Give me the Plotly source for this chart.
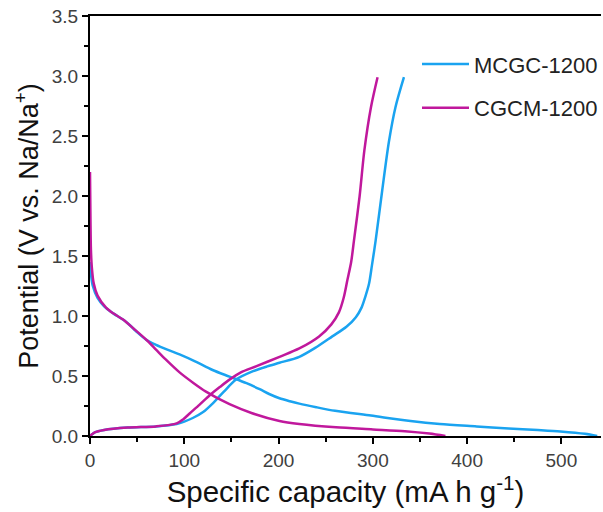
import plotly.graph_objects as go

# Galvanostatic charge/discharge profiles (capacity in mA h g^-1, potential in V)
mcgc_dis_cap = [0, 1, 3, 8, 15, 25, 35, 42, 50, 60, 70, 82, 95, 112, 130, 148, 166, 180, 190, 201, 212, 222, 240, 260, 298, 340, 371, 410, 444, 475, 499, 525, 538]
mcgc_dis_v = [1.45, 1.35, 1.25, 1.15, 1.08, 1.02, 0.97, 0.925, 0.865, 0.8, 0.76, 0.72, 0.68, 0.62, 0.55, 0.495, 0.44, 0.39, 0.35, 0.315, 0.29, 0.27, 0.24, 0.21, 0.17, 0.125, 0.1, 0.08, 0.063, 0.05, 0.038, 0.018, 0.0]
mcgc_chg_cap = [0, 5, 15, 40, 70, 92, 100, 109, 120, 130, 142, 155, 173, 188, 201, 222, 240, 257, 272, 282, 288, 292, 296, 299, 303, 310, 317, 324, 333]
mcgc_chg_v = [0.0, 0.03, 0.05, 0.07, 0.08, 0.1, 0.12, 0.15, 0.2, 0.27, 0.37, 0.47, 0.54, 0.58, 0.61, 0.66, 0.74, 0.83, 0.91, 0.99, 1.07, 1.16, 1.27, 1.42, 1.63, 2.05, 2.45, 2.74, 2.99]

cgcm_dis_cap = [0, 0.5, 1, 2, 4, 8, 17, 25, 35, 47, 60, 70, 80, 95, 110, 123, 148, 172, 201, 222, 261, 300, 334, 360, 377]
cgcm_dis_v = [2.2, 1.8, 1.55, 1.4, 1.27, 1.17, 1.07, 1.02, 0.97, 0.89, 0.8, 0.72, 0.64, 0.53, 0.44, 0.37, 0.265, 0.19, 0.125, 0.1, 0.072, 0.055, 0.04, 0.02, 0.0]
cgcm_chg_cap = [0, 5, 15, 40, 70, 92, 99, 106, 116, 127, 138, 148, 160, 176, 201, 222, 243, 256, 264, 269, 273, 277, 280, 286, 291, 298, 305]
cgcm_chg_v = [0.0, 0.03, 0.05, 0.07, 0.08, 0.105, 0.14, 0.19, 0.26, 0.34, 0.41, 0.47, 0.53, 0.58, 0.66, 0.73, 0.83, 0.93, 1.03, 1.15, 1.3, 1.45, 1.63, 2.0, 2.38, 2.74, 2.99]

series_names = ["MCGC-1200", "CGCM-1200"]
series_colors = ["#1aa3f0", "#c0189c"]

fig = go.Figure()

curves = [
    (mcgc_dis_cap, mcgc_dis_v, mcgc_chg_cap, mcgc_chg_v),
    (cgcm_dis_cap, cgcm_dis_v, cgcm_chg_cap, cgcm_chg_v),
]

for i, (dc, dv, cc, cv) in enumerate(curves):
    name = series_names[i]
    color = series_colors[i]
    fig.add_trace(go.Scatter(
        x=dc, y=dv, mode="lines", name=name, legendgroup=name,
        line=dict(color=color, width=2.5, shape="spline", smoothing=0.8),
    ))
    fig.add_trace(go.Scatter(
        x=cc, y=cv, mode="lines", name=name, legendgroup=name, showlegend=False,
        line=dict(color=color, width=2.5, shape="spline", smoothing=0.8),
    ))

FONT = "Liberation Sans, Arial, sans-serif"
axis_font = dict(family=FONT, size=19, color="#404040")

fig.update_layout(
    width=603, height=512,
    margin=dict(l=90, r=0, t=16, b=76),
    paper_bgcolor="white", plot_bgcolor="white",
    showlegend=True,
    legend=dict(
        x=0.64, y=0.935, xanchor="left", yanchor="top",
        font=dict(family=FONT, size=22, color="#222222"),
        bgcolor="rgba(0,0,0,0)", traceorder="grouped", tracegroupgap=12,
        itemwidth=47,
    ),
    xaxis=dict(
        range=[0, 542], tickvals=[0, 100, 200, 300, 400, 500],
        ticks="outside", ticklen=6, tickwidth=2, tickcolor="black",
        minor=dict(dtick=50, ticks="outside", ticklen=4, tickwidth=2, tickcolor="black"),
        showline=True, linecolor="black", linewidth=2, mirror=True,
        showgrid=False, zeroline=False, tickfont=axis_font,
        title=dict(text="Specific capacity (mA h g<sup>-1</sup>)",
                   font=dict(family=FONT, size=29.5, color="#111111"), standoff=5),
    ),
    yaxis=dict(
        range=[0, 3.5], dtick=0.5, tickformat=".1f",
        ticks="outside", ticklen=6, tickwidth=2, tickcolor="black",
        minor=dict(dtick=0.25, ticks="outside", ticklen=4, tickwidth=2, tickcolor="black"),
        showline=True, linecolor="black", linewidth=2, mirror=False,
        showgrid=False, zeroline=False, tickfont=axis_font,
        title=dict(text="Potential (V vs. Na/Na<sup>+</sup>)",
                   font=dict(family=FONT, size=27, color="#111111"), standoff=5),
    ),
)

fig.write_html("out.html")
